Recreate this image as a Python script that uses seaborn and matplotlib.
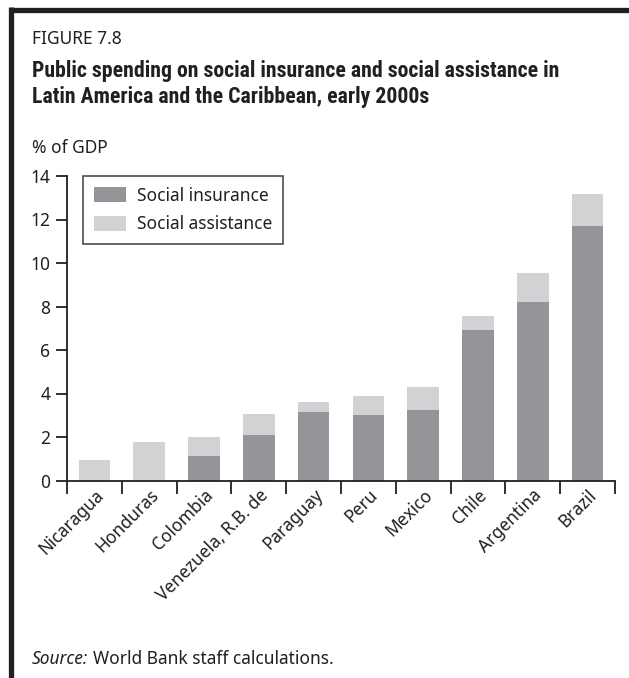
import matplotlib
matplotlib.use("Agg")
import matplotlib.pyplot as plt
import seaborn as sns
import pandas as pd
from matplotlib.patches import Patch
from matplotlib.lines import Line2D
from matplotlib import font_manager

countries = ["Nicaragua", "Honduras", "Colombia", "Venezuela, R.B. de", "Paraguay",
             "Peru", "Mexico", "Chile", "Argentina", "Brazil"]
social_insurance = [0.0, 0.0, 1.14, 2.09, 3.14, 3.0, 3.25, 6.9, 8.19, 11.72]
social_assistance = [0.94, 1.77, 0.87, 0.96, 0.46, 0.88, 1.04, 0.65, 1.37, 1.47]
y_ticks = [0, 2, 4, 6, 8, 10, 12, 14]

DARK = "#939598"
LIGHT = "#d1d2d4"
TEXT = "#231f20"

sns.set_theme(style="white")
plt.rcParams["font.family"] = ["Noto Sans", "DejaVu Sans"]

installed = {f.name for f in font_manager.fontManager.ttflist}
title_family = None
for cand in ["Liberation Sans Narrow", "Roboto Condensed", "Open Sans Condensed",
             "Noto Sans Condensed", "Roboto"]:
    if cand in installed:
        title_family = cand
        break
if title_family is None:
    title_family = "DejaVu Sans"

df = pd.DataFrame({
    "country": countries,
    "insurance": social_insurance,
    "total": [a + b for a, b in zip(social_insurance, social_assistance)],
})

fig = plt.figure(figsize=(6.29, 6.78), dpi=100)
W, H = 629, 678
ax = fig.add_axes([67 / W, (H - 480.5) / H, (615 - 67) / W, (480.5 - 176) / H])

sns.barplot(data=df, x="country", y="total", color=LIGHT, width=0.58,
            saturation=1, ax=ax, edgecolor="none")
sns.barplot(data=df, x="country", y="insurance", color=DARK, width=0.58,
            saturation=1, ax=ax, edgecolor="none")

ax.set_xlim(-0.5, len(countries) - 0.5)
ax.set_ylim(0, 14)
ax.set_yticks(y_ticks)
ax.set_yticklabels([str(t) for t in y_ticks], fontsize=12.5, color=TEXT)
ax.set_xlabel("")
ax.set_ylabel("")
for s in ["top", "right"]:
    ax.spines[s].set_visible(False)
for s in ["left", "bottom"]:
    ax.spines[s].set_color(TEXT)
    ax.spines[s].set_linewidth(1.3)

ax.set_xticks([i + 0.5 for i in range(-1, len(countries))])
ax.set_xticklabels([])
ax.tick_params(axis="x", which="major", direction="out", length=9, width=1.3,
               color=TEXT, bottom=True)
ax.set_xticks(range(len(countries)), minor=True)
ax.set_xticklabels(countries, minor=True, rotation=45, ha="right",
                   rotation_mode="anchor", fontsize=12.5, color=TEXT)
ax.tick_params(axis="x", which="minor", length=0, pad=4)
ax.tick_params(axis="y", direction="out", length=8, width=1.3, color=TEXT,
               left=True, pad=4)

handles = [Patch(facecolor=DARK, edgecolor="none", label="Social insurance"),
           Patch(facecolor=LIGHT, edgecolor="none", label="Social assistance")]
leg = ax.legend(handles=handles, loc="upper left", bbox_to_anchor=(16 / 548, 1.0),
                fontsize=12.5, frameon=True, fancybox=False, borderpad=0.62,
                handlelength=1.85, handleheight=0.95, labelspacing=0.6,
                handletextpad=0.65, borderaxespad=0)
leg.get_frame().set_edgecolor(TEXT)
leg.get_frame().set_linewidth(1.2)
for t in leg.get_texts():
    t.set_color(TEXT)

fig.add_artist(Line2D([10.5 / W, 1.0], [1 - 9.5 / H, 1 - 9.5 / H], color="#231f20",
                      lw=3.8, solid_capstyle="butt", transform=fig.transFigure))
fig.add_artist(Line2D([10.5 / W, 10.5 / W], [0, 1 - 7 / H], color="#231f20",
                      lw=3.8, solid_capstyle="butt", transform=fig.transFigure))

fig.text(32 / W, 1 - 44.5 / H, "FIGURE 7.8", fontsize=12.5, color=TEXT, va="baseline")
t1 = fig.text(32 / W, 1 - 77 / H,
              "Public spending on social insurance and social assistance in",
              fontsize=13.5, fontweight="bold", family=[title_family, "DejaVu Sans"],
              color=TEXT, va="baseline")
t2 = fig.text(32 / W, 1 - 103 / H, "Latin America and the Caribbean, early 2000s",
              fontsize=13.5, fontweight="bold", family=[title_family, "DejaVu Sans"],
              color=TEXT, va="baseline")
fig.text(32 / W, 1 - 153 / H, "% of GDP", fontsize=12.5, color=TEXT, va="baseline")
src = fig.text(32 / W, 1 - 664 / H, "Source:", fontsize=12.5, style="italic", color=TEXT,
               va="baseline")

fig.canvas.draw()
renderer = fig.canvas.get_renderer()
w = t1.get_window_extent(renderer).width
new_size = max(10.0, min(17.0, 13.5 * 527 / w))
t1.set_fontsize(new_size)
t2.set_fontsize(new_size)

ext = src.get_window_extent(renderer)
fig.text((ext.x1 + 5) / W, 1 - 664 / H, "World Bank staff calculations.", fontsize=12.5,
         color=TEXT, va="baseline")

fig.savefig("out.png", dpi=100, facecolor="white")
